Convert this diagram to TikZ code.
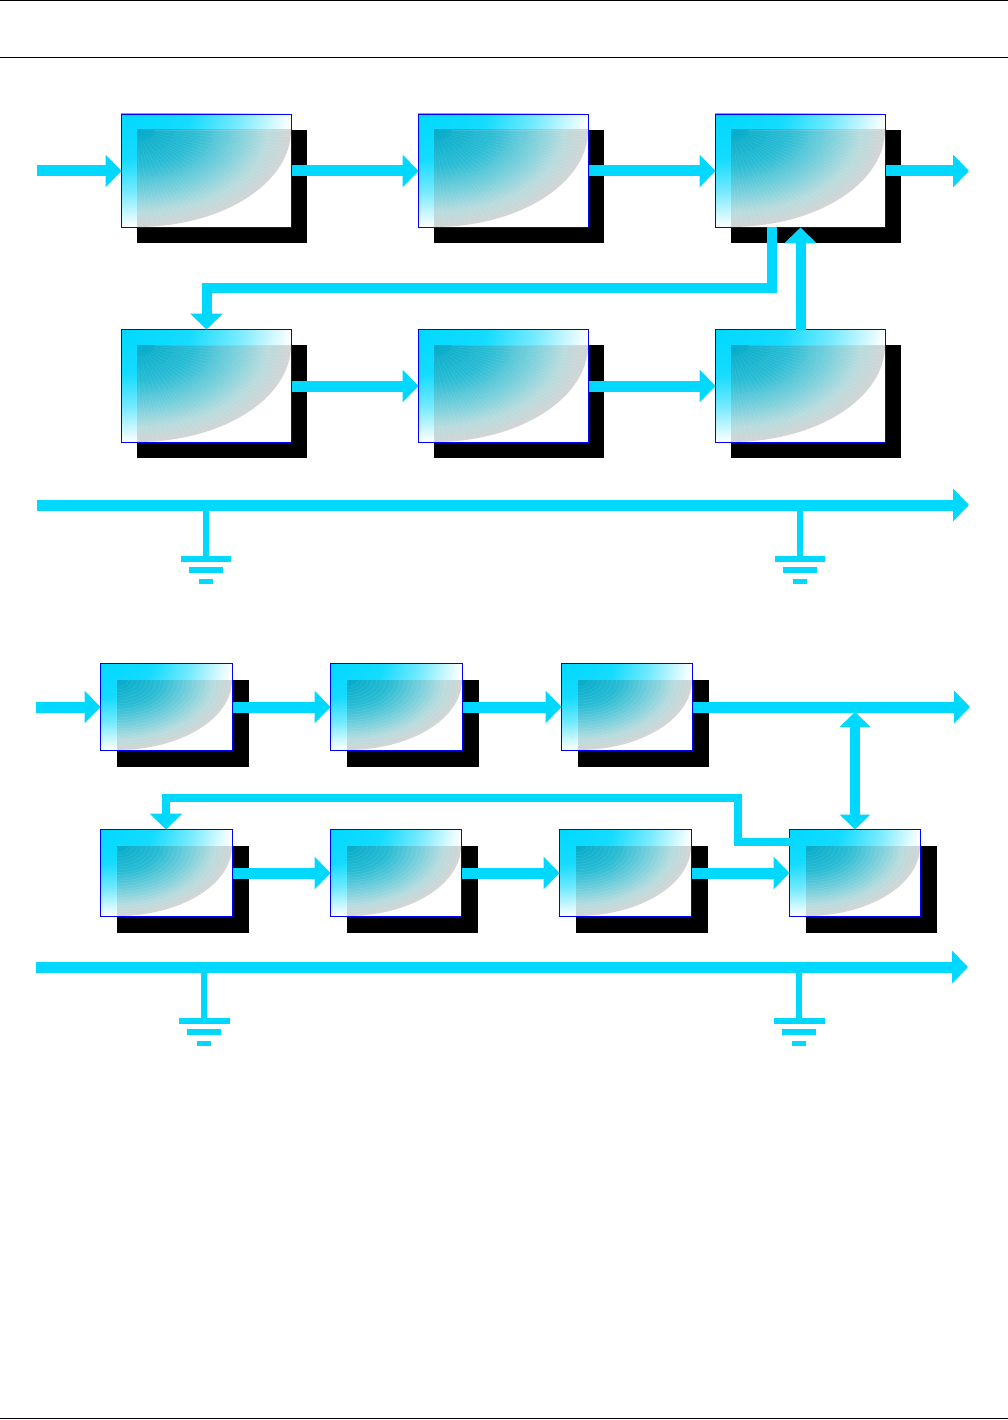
\documentclass[tikz,border=0pt]{standalone}
\usetikzlibrary{arrows.meta,calc}
\definecolor{wire}{HTML}{00D8FF}
\definecolor{boxblue}{HTML}{0000FF}
\definecolor{sa}{HTML}{06AAC8}
\definecolor{sb}{HTML}{28BCD4}
\definecolor{sc}{HTML}{78D0DC}
\definecolor{sd}{HTML}{B9DCDE}
\definecolor{se}{HTML}{D4D4D4}
\pgfdeclareradialshading{boxfade}{\pgfpoint{0bp}{0bp}}{%
  color(0bp)=(wire); color(10bp)=(wire!92!white); color(17bp)=(wire!55!white); color(25bp)=(white); color(50bp)=(white)}
\pgfdeclareradialshading{shadowfade}{\pgfpoint{0bp}{0bp}}{%
  color(0bp)=(sa); color(9bp)=(sb); color(16bp)=(sc); color(21bp)=(sd); color(25bp)=(se); color(50bp)=(se)}
\tikzset{
  boxnode/.style={draw=boxblue,line width=1.2pt,inner sep=0pt,outer sep=0pt,anchor=north west},
  wirethick/.style={draw=wire,line width=11pt},
  wirethin/.style={draw=wire,line width=10pt},
  wirefb/.style={draw=wire,line width=8pt},
  hd/.style={-{Triangle[length=16pt,width=32pt]}},
  hdboth/.style={{Triangle[length=15pt,width=30pt]}-{Triangle[length=15pt,width=30pt]}},
  stem/.style={draw=wire,line width=6pt},
  gbar/.style={fill=wire,draw=none,inner sep=0pt,outer sep=0pt,anchor=north},
  rule/.style={draw=black,line width=1pt},
  grain/.style={draw=white,line width=0.4pt,opacity=0.13}
}
% halftone grain: rays for the upper circuit, rings for the lower one (cx,cy,a,b)
\newcommand{\grainrays}[4]{%
  \foreach \s/\l in {0/0.12,8/0.12,16/0.12,24/0.12,32/0.12,40/0.12,48/0.12,56/0.12,64/0.12,72/0.12,80/0.12,88/0.12,
      4/0.25,12/0.25,20/0.25,28/0.25,36/0.25,44/0.25,52/0.25,60/0.25,68/0.25,76/0.25,84/0.25,
      2/0.5,6/0.5,10/0.5,14/0.5,18/0.5,22/0.5,26/0.5,30/0.5,34/0.5,38/0.5,42/0.5,46/0.5,50/0.5,54/0.5,58/0.5,62/0.5,66/0.5,70/0.5,74/0.5,78/0.5,82/0.5,86/0.5}
    \draw[grain] ({(#1)+\l*(#3)*cos(\s)},{(#2)+\l*(#4)*sin(\s)}) -- ({(#1)+(#3)*cos(\s)},{(#2)+(#4)*sin(\s)});
}
\newcommand{\grainrings}[4]{%
  \foreach \s in {0.1,0.14,...,1}
    \draw[grain] (#1,#2) ellipse [x radius={(#3)*\s},y radius={(#4)*\s}];
}
% name, left, top, width, height, shadow offset, grain macro
\newcommand{\fancybox}[7]{%
  \fill[black] (#2+#6,#3+#6) rectangle ++(#4,#5);
  \fill[white] (#2,#3) rectangle ++(#4,#5);
  \begin{scope}
    \clip (#2,#3) rectangle ++(#4,#5);
    \shade[shading=boxfade] (#2,#3) ellipse [x radius=#4,y radius=#5];
  \end{scope}
  \begin{scope}
    \clip (#2+#6,#3+#6) rectangle (#2+#4,#3+#5);
    \fill[white] (#2+#6,#3+#6) rectangle (#2+#4,#3+#5);
    \shade[shading=shadowfade] (#2+#6,#3+#6) ellipse [x radius=#4-#6,y radius=#5-#6];
    \clip (#2+#6,#3+#6) ellipse [x radius=#4-#6,y radius=#5-#6];
    #7{#2+#6}{#3+#6}{#4-#6}{#5-#6}
  \end{scope}
  \node[boxnode,minimum width=#4pt,minimum height=#5pt] (#1) at (#2+0.5,#3+0.5) {};
}
% name, x, top of first bar, first bar width, second and third bar drops
\newcommand{\ground}[6]{%
  \node[gbar,minimum width=#4pt,minimum height=6pt] (#1a) at (#2,#3) {};
  \node[gbar,minimum width=34pt,minimum height=6pt] (#1b) at (#2,#3+#5) {};
  \node[gbar,minimum width=14pt,minimum height=5pt] (#1c) at (#2,#3+#6) {};
}
\begin{document}
\begin{tikzpicture}[x=1pt,y=-1pt]
\useasboundingbox (0,0) rectangle (1008,1420);
\coordinate (r0a) at (0,0.5); \coordinate (r0b) at (1008,0.5);
\coordinate (r1a) at (0,57.5); \coordinate (r1b) at (1008,57.5);
\coordinate (r2a) at (0,1418.5); \coordinate (r2b) at (1008,1418.5);
\draw[rule] (r0a)--(r0b); \draw[rule] (r1a)--(r1b); \draw[rule] (r2a)--(r2b);

% upper circuit
\fancybox{a1}{121}{114}{170}{113}{16}{\grainrays}
\fancybox{a2}{418}{114}{170}{113}{16}{\grainrays}
\fancybox{a3}{715}{114}{170}{113}{16}{\grainrays}
\fancybox{b1}{121}{329}{170}{113}{16}{\grainrays}
\fancybox{b2}{418}{329}{170}{113}{16}{\grainrays}
\fancybox{b3}{715}{329}{170}{113}{16}{\grainrays}
\coordinate (ain) at (37,171);
\coordinate (aout) at (969,171);
\draw[wirethick,hd] (ain)--(a1.west);
\draw[wirethick,hd] (a1.east)--(a2.west);
\draw[wirethick,hd] (a2.east)--(a3.west);
\draw[wirethick,hd] (a3.east)--(aout);
\draw[wirethick,hd] (b1.east)--(b2.west);
\draw[wirethick,hd] (b2.east)--(b3.west);
\draw[wirethin,hd] (b3.north)--(a3.south);
\draw[wirethin,hd] ([xshift=-29pt]a3.south) -- ++(0,61) -| (b1.north);
\coordinate (bus1a) at (37,505); \coordinate (bus1b) at (969,505);
\draw[wirethick,hd] (bus1a)--(bus1b);
\ground{ga}{206}{556}{50}{11}{23}
\ground{gb}{800}{556}{50}{11}{23}
\coordinate (gas) at (206,505); \coordinate (gbs) at (800,505);
\draw[stem] (gas)--(gaa.north);
\draw[stem] (gbs)--(gba.north);

% lower circuit
\fancybox{c1}{100}{663}{132}{87}{17}{\grainrings}
\fancybox{c2}{330}{663}{132}{87}{17}{\grainrings}
\fancybox{c3}{561}{663}{131}{87}{17}{\grainrings}
\fancybox{d1}{100}{829}{132}{87}{17}{\grainrings}
\fancybox{d2}{330}{829}{131}{87}{17}{\grainrings}
\fancybox{d3}{559}{829}{132}{87}{17}{\grainrings}
\fancybox{d4}{789}{829}{131}{87}{17}{\grainrings}
\coordinate (cin) at (36,707);
\coordinate (cout) at (970,707);
\draw[wirethick,hd] (cin)--(c1.west);
\draw[wirethick,hd] (c1.east)--(c2.west);
\draw[wirethick,hd] (c2.east)--(c3.west);
\draw[wirethick,hd] (c3.east)--(cout);
\draw[wirethick,hd] (d1.east)--(d2.west);
\draw[wirethick,hd] (d2.east)--(d3.west);
\draw[wirethick,hd] (d3.east)--(d4.west);
\coordinate (btap) at (855,712);
\draw[wirethin,hdboth] (btap)--(d4.north);
\coordinate (f1) at (738,841.5);
\coordinate (f2) at (738,798);
\coordinate (f3) at (166,798);
\draw[wirefb,hd] (d4.west |- f1) -- (f1) -- (f2) -- (f3) -- (f3 |- d1.north);
\coordinate (bus2a) at (36,967); \coordinate (bus2b) at (968,967);
\draw[wirethick,hd] (bus2a)--(bus2b);
\ground{gc}{204}{1018}{51}{11}{23}
\ground{gd}{799}{1018}{51}{11}{23}
\coordinate (gcs) at (204,967); \coordinate (gds) at (799,967);
\draw[stem] (gcs)--(gca.north);
\draw[stem] (gds)--(gda.north);
\end{tikzpicture}
\end{document}
